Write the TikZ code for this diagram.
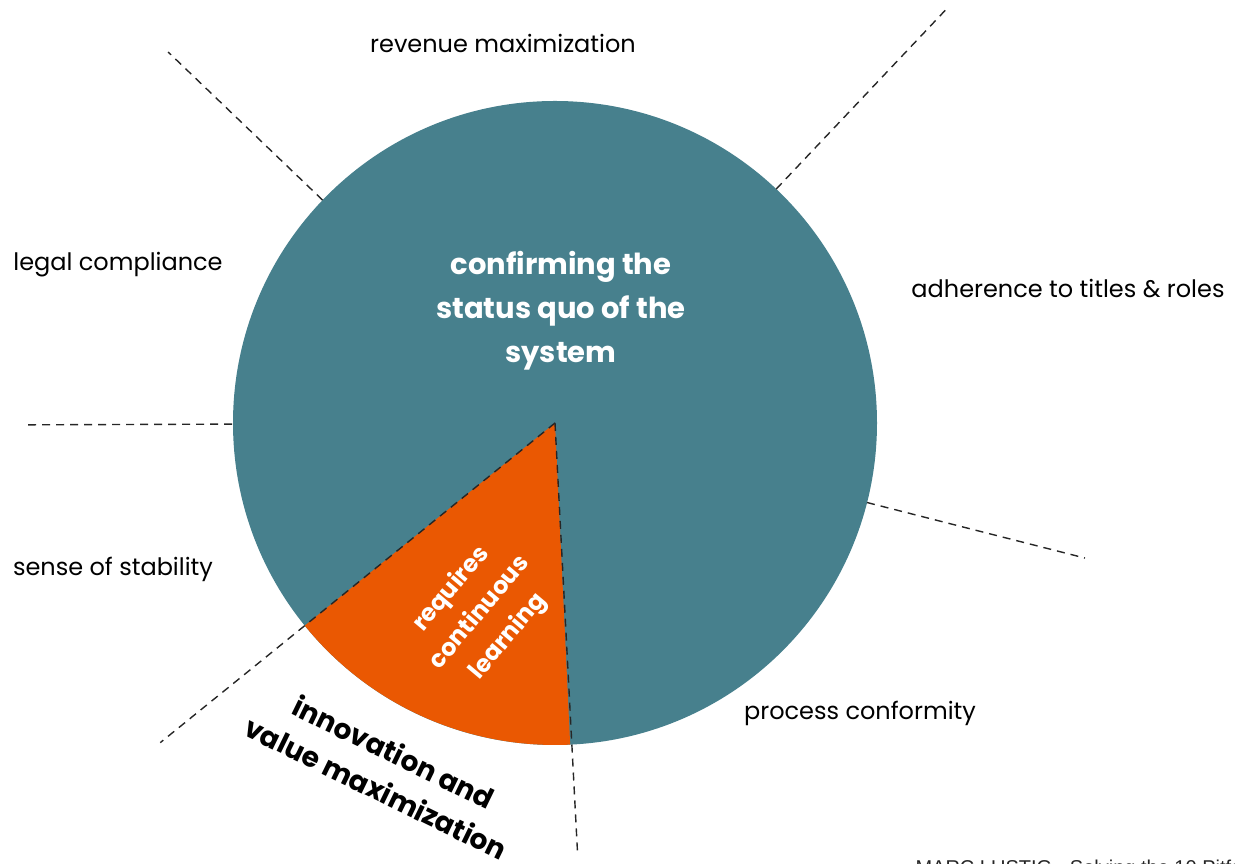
\documentclass[tikz,border=0pt]{standalone}
\usepackage{fontspec}
\setmainfont{Poppins}
\newfontfamily\footfont{Liberation Sans}
\usetikzlibrary{calc}

\definecolor{statusteal}{HTML}{47808D}
\definecolor{learnorange}{HTML}{EA5802}

\begin{document}
\begin{tikzpicture}[x=1pt, y=1pt,
  aspect/.style={font=\fontsize{24}{28}\selectfont},
  claim/.style={font=\fontsize{29}{44}\selectfont\bfseries, align=center},
  divider/.style={dash pattern=on 8pt off 6pt, line width=1.4pt, black!85},
]
\useasboundingbox (0,0) rectangle (1235,864);

% pie: the big slice and the small one
\coordinate (c) at (555,441);
\fill[statusteal] (c) circle (322);
\fill[learnorange] (c) -- ($(c)+(219:322)$) arc[start angle=219, end angle=272.7, radius=322] -- cycle;

% dashed dividers between the aspects
\draw[divider] ($(c)+(136.2:322)$) -- ($(c)+(136.2:536)$);
\draw[divider] ($(c)+(46.6:322)$)  -- ($(c)+(46.6:571)$);
\draw[divider] ($(c)+(-14.3:322)$) -- ($(c)+(-14.3:547)$);
\draw[divider] ($(c)+(180.2:527)$) -- ($(c)+(180.2:322)$);
\draw[divider] (c) -- ($(c)+(219:508)$);
\draw[divider] (c) -- ($(c)+(273:433)$);

\node[aspect] (rev) at (503,821) {revenue maximization};
\node[aspect] (leg) at (118,599) {legal compliance};
\node[aspect] (adh) at (1068,575) {adherence to titles \& roles};
\node[aspect] (sta) at (113,295) {sense of stability};
\node[aspect] (pro) at (860,151) {process conformity};

\node[claim, text=white] (quo) at (561,553) {confirming the\\status quo of the\\system};
\node[claim, text=white, font=\fontsize{24}{37}\selectfont\bfseries, rotate=50] (lrn) at (480,251) {requires\\continuous\\learning};
\node[claim, font=\fontsize{28}{40}\selectfont\bfseries, rotate=-26] (inv) at (385,94) {innovation and\\value maximization};

\node[font=\footfont\fontsize{20}{24}\selectfont, anchor=base west, text=black!85] (src) at (912,-11) {MARC LUSTIG - Solving the 10 Pitfalls};
\end{tikzpicture}
\end{document}
